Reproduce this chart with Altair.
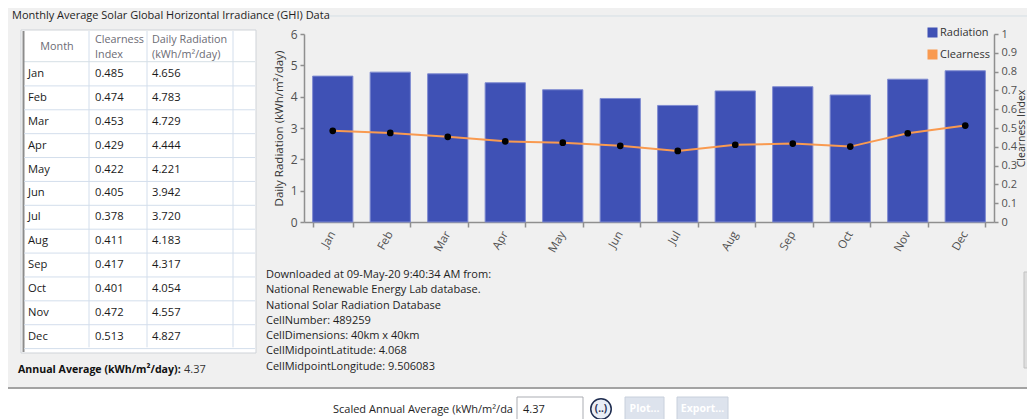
import altair as alt
import pandas as pd

# ---------------- data ----------------
months = ["Jan", "Feb", "Mar", "Apr", "May", "Jun", "Jul", "Aug", "Sep", "Oct", "Nov", "Dec"]
clearness = [0.485, 0.474, 0.453, 0.429, 0.422, 0.405, 0.378, 0.411, 0.417, 0.401, 0.472, 0.513]
radiation = [4.656, 4.783, 4.729, 4.444, 4.221, 3.942, 3.720, 4.183, 4.317, 4.054, 4.557, 4.827]
series_names = ["Radiation", "Clearness"]
series_colors = ["#3f51b5", "#f99a50"]
left_ticks = [0, 1, 2, 3, 4, 5, 6]
right_ticks = [0, 0.1, 0.2, 0.3, 0.4, 0.5, 0.6, 0.7, 0.8, 0.9, 1]
header_month = "Month"
header_clear = ["Clearness", "Index"]
header_rad = ["Daily Radiation", "(kWh/m²/day)"]
info_lines = [
    "Downloaded at 09-May-20 9:40:34 AM from:",
    "National Renewable Energy Lab database.",
    "National Solar Radiation Database",
    "CellNumber: 489259",
    "CellDimensions: 40km x 40km",
    "CellMidpointLatitude: 4.068",
    "CellMidpointLongitude: 9.506083",
]
title_text = "Monthly Average Solar Global Horizontal Irradiance (GHI) Data"
annual_label = "Annual Average (kWh/m²/day):"
annual_value = "4.37"
scaled_label = "Scaled Annual Average (kWh/m²/da"
scaled_value = "4.37"

df = pd.DataFrame({"Month": months, "Clearness": clearness,
                   "Radiation": radiation, "series": "Radiation"})
one = pd.DataFrame({"k": [0]})

FONT = "Open Sans"
OX, OY = 304, 34  # page position of the plot origin


def px(x):
    return x - OX


def py(y):
    return y - OY


def rect(x1, y1, x2, y2, fill, stroke=None, sw=1):
    kw = dict(fill=fill)
    if stroke:
        kw.update(stroke=stroke, strokeWidth=sw)
    else:
        kw.update(strokeWidth=0)
    return alt.Chart(one).mark_rect(**kw).encode(
        x=alt.value(px(x1)), x2=alt.value(px(x2)),
        y=alt.value(py(y1)), y2=alt.value(py(y2)))


def hline(x1, x2, y, color, sw=1):
    return alt.Chart(one).mark_rule(color=color, strokeWidth=sw).encode(
        x=alt.value(px(x1)), x2=alt.value(px(x2)), y=alt.value(py(y)))


def vline(x, y1, y2, color, sw=1):
    return alt.Chart(one).mark_rule(color=color, strokeWidth=sw).encode(
        x=alt.value(px(x)), y=alt.value(py(y1)), y2=alt.value(py(y2)))


def text(x, y, t, align="left", size=11, color="#1e1e1e", weight="normal", lh=None):
    kw = dict(text=t, align=align, baseline="middle", font=FONT, fontSize=size,
              color=color, fontWeight=weight)
    if lh:
        kw["lineHeight"] = lh
    return alt.Chart(one).mark_text(**kw).encode(x=alt.value(px(x)), y=alt.value(py(y)))


# ---------------- decorations ----------------
bottom_white = rect(8, 389, 1035, 420, "#ffffff")
bottom_line = hline(8, 1035, 388, "#a3a3a3", 2)
title_t = text(12, 15.5, title_text, size=11)
group_line = hline(330, 1035, 16, "#d5dfe5", 1)

table_bg = rect(21, 30, 256, 353, "#ffffff", "#cfd3d8", 1)
table_left = vline(23.5, 31, 352, "#8c8c8c", 2)
header_line = hline(24, 255, 61.7, "#d5dfe5", 1)
col_lines = alt.layer(*[vline(xx, 31, 347.3, "#d3deec", 1) for xx in (89, 147, 233)])

h_month = text(57, 47, header_month, align="center", size=10.8, color="#6b6b74")
h_clear = text(95, 40, header_clear, size=10.8, color="#6b6b74", lh=15)
h_rad = text(152, 40, header_rad, size=10.8, color="#6b6b74", lh=15)

# table rows (data driven)
row_y = alt.Y("Month:O", sort=months, axis=None,
              scale=alt.Scale(type="point", range=[py(74), py(336.7)], padding=0))
tbl = alt.Chart(df).encode(y=row_y)
row_lines = tbl.mark_rule(color="#d3deec", strokeWidth=1, yOffset=11.9).encode(
    x=alt.value(px(24)), x2=alt.value(px(255)))
t_month = tbl.mark_text(align="left", baseline="middle", font=FONT, fontSize=11.2,
                        color="#1a1a1a").encode(x=alt.value(px(28)), text="Month:N")
t_clear = tbl.mark_text(align="left", baseline="middle", font=FONT, fontSize=11.2,
                        color="#1a1a1a").encode(
    x=alt.value(px(95)), text=alt.Text("Clearness:Q", format=".3f"))
t_rad = tbl.mark_text(align="left", baseline="middle", font=FONT, fontSize=11.2,
                      color="#1a1a1a").encode(
    x=alt.value(px(152)), text=alt.Text("Radiation:Q", format=".3f"))
table_group = alt.layer(row_lines, t_month, t_clear, t_rad)

annual_b = text(18, 370, annual_label, size=10.6, weight="bold", color="#111111")
annual_v = text(184, 370, annual_value, size=11, color="#333333")

info_t = text(266, 275, info_lines, size=11, lh=15.28)

# bottom controls
scaled_t = text(333, 410, scaled_label, size=11)
input_box = rect(517, 397, 583, 421, "#ffffff", "#abadb3", 1)
input_t = text(523, 410, scaled_value, size=11)
circle_btn = alt.Chart(one).mark_point(shape="circle", size=420, filled=True, fill="#e9eef6",
                                       stroke="#1f2d50", strokeWidth=1.5, opacity=1).encode(
    x=alt.value(px(601)), y=alt.value(py(409)))
circle_t = text(601, 409, "(..)", align="center", size=10, color="#1f2d50", weight="bold")
plot_btn = rect(625, 397, 664, 421, "#dde3ed", "#c8d0dc", 1)
plot_t = text(644.5, 409, "Plot...", align="center", size=10.5, color="#ffffff", weight="bold")
exp_btn = rect(677, 397, 728, 421, "#dde3ed", "#c8d0dc", 1)
exp_t = text(702.5, 409, "Export...", align="center", size=10.5, color="#ffffff", weight="bold")
scroll_r = rect(1024, 272, 1028, 368, "#dedede", "#c2c2c2", 1)

# ---------------- main chart ----------------
x_enc = alt.X("Month:N", sort=months, title=None,
              scale=alt.Scale(paddingInner=0.3),
              axis=alt.Axis(labelAngle=300, tickBand="extent", tickSize=5,
                            labelPadding=5, labelFontSize=11.5))

bars = alt.Chart(df).mark_bar(stroke="#7f8bd1", strokeWidth=1).encode(
    x=x_enc,
    y=alt.Y("Radiation:Q", scale=alt.Scale(domain=[0, 6], nice=False),
            axis=alt.Axis(orient="left", values=left_ticks, title="Daily Radiation (kWh/m²/day)",
                          tickSize=4, labelPadding=3, titlePadding=6)),
    color=alt.Color("series:N", scale=alt.Scale(domain=series_names, range=series_colors),
                    legend=alt.Legend(title=None, orient="none", legendX=623, legendY=-7,
                                      symbolType="square", symbolSize=100, symbolStrokeWidth=0,
                                      labelFont=FONT, labelFontSize=11, labelColor="#333333",
                                      rowPadding=10, padding=0, labelOffset=2)),
)

y_right = alt.Y("Clearness:Q", scale=alt.Scale(domain=[0, 1], nice=False),
                axis=alt.Axis(orient="right", values=right_ticks, format="~g",
                              title="Clearness Index", titleAngle=270, titleBaseline="top",
                              tickSize=4, labelPadding=3, labelFontSize=11,
                              titlePadding=0, titleFontSize=10.5))
line = alt.Chart(df).mark_line(color=series_colors[1], strokeWidth=2).encode(x=x_enc, y=y_right)
points = alt.Chart(df).mark_circle(color="black", size=45, opacity=1).encode(x=x_enc, y=y_right)
line_group = alt.layer(line, points)

chart = alt.layer(
    bottom_white, bottom_line, group_line, title_t,
    table_bg, col_lines, header_line, table_left, h_month, h_clear, h_rad,
    table_group, annual_b, annual_v, info_t,
    scaled_t, input_box, input_t, circle_btn, circle_t, plot_btn, plot_t, exp_btn, exp_t,
    scroll_r,
    bars, line_group,
).resolve_scale(y="independent").properties(
    width=690, height=188,
    padding={"left": 296, "top": 26, "right": 33, "bottom": 197},
    autosize=alt.AutoSizeParams(type="none"),
    background="#f0f0f0",
).configure_view(strokeWidth=0).configure_axis(
    grid=False, domainColor="#8f8f8f", domainWidth=1.5, tickColor="#8f8f8f", tickWidth=1.5,
    labelFont=FONT, labelFontSize=12, labelColor="#505050",
    titleFont=FONT, titleFontSize=11.5, titleFontWeight="normal", titleColor="#333333",
)

chart.save("out.html", embed_options={"renderer": "svg", "actions": False})
